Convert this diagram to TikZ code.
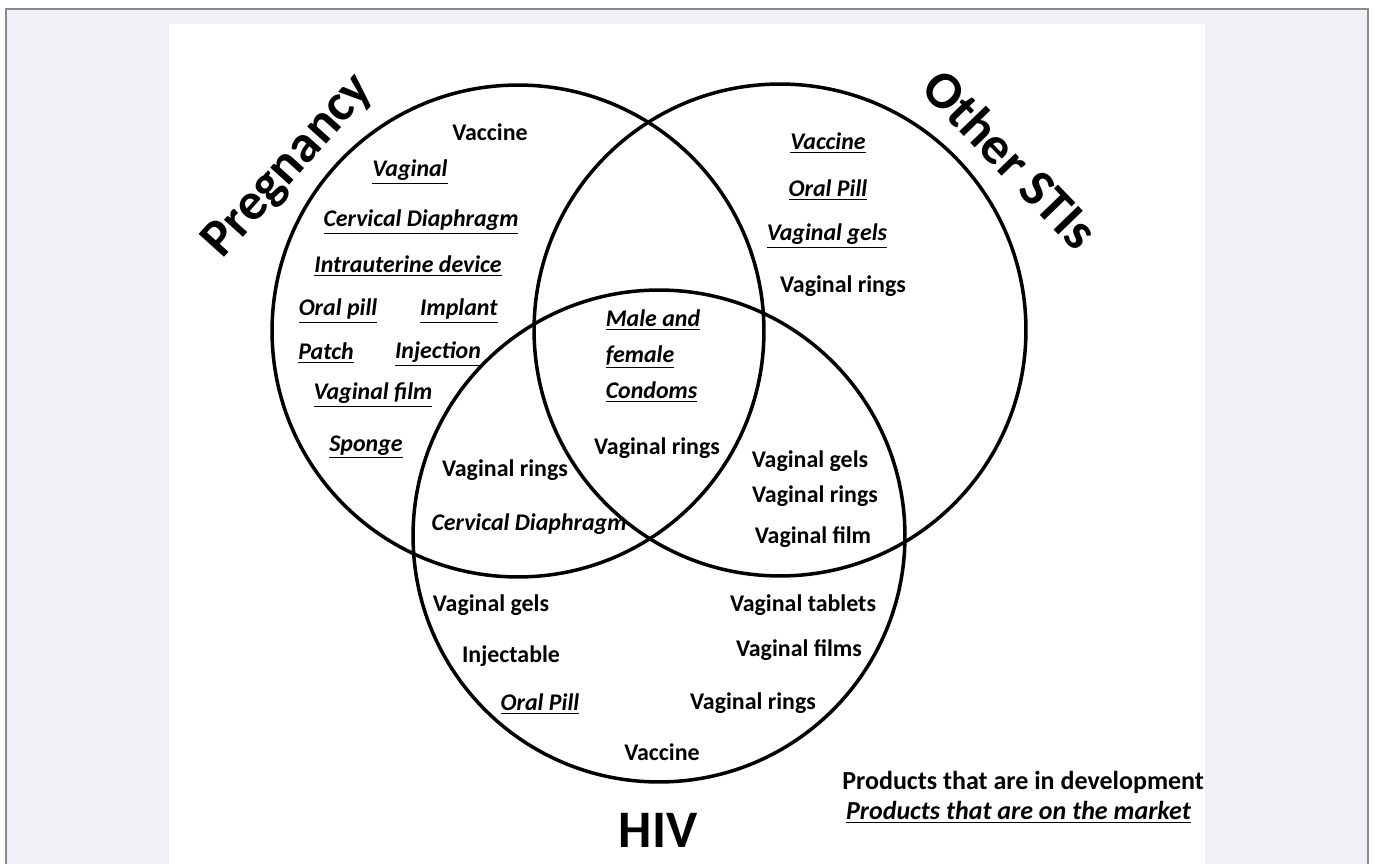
\documentclass[tikz,border=0pt]{standalone}
\usepackage{fontspec}
\setmainfont{Carlito}
\usepackage{tikz}
\usetikzlibrary{positioning}
\definecolor{pagegray}{HTML}{F0F1F6}
\definecolor{framegray}{HTML}{8A8A8A}
\newcommand{\onmkt}[1]{\underline{\textit{#1}}}

\begin{document}
\begin{tikzpicture}[
  x=0.02cm, y=-0.02cm,
  every node/.style={font=\fontsize{13.6}{16}\selectfont\bfseries, inner sep=1pt},
  venn/.style={draw, circle, line width=2pt, minimum size=9.84cm},
  title/.style={font=\fontsize{30}{32}\selectfont\bfseries},
  key/.style={font=\fontsize{14.8}{17}\selectfont\bfseries}
]
\useasboundingbox (0,0) rectangle (1375,864);
\fill[pagegray] (6,9) rectangle (1368,864);
\draw[framegray, line width=0.8pt] (6,864) -- (6,9) -- (1368,9) -- (1368,864);
\fill[white] (169,24) rectangle (1205,864);

% the three sets
\node[venn] (preg) at (518,331) {};
\node[venn] (sti) at (780,330) {};
\node[venn] (hiv) at (659,536) {};

\node[title, rotate=48] (pregtitle) at (289,167) {Pregnancy};
\node[title, rotate=-46] (stititle) at (1011,159) {Other STIs};
\node[title] (hivtitle) at (658,830) {HIV};

% pregnancy only
\node (p1) at (490,132) {Vaccine};
\node (p2) at (410,172) {\onmkt{Vaginal}};
\node (p3) at (421,222) {\onmkt{Cervical Diaphragm}};
\node (p4) at (408,266) {\onmkt{Intrauterine device}};
\node (p5) at (338,311) {\onmkt{Oral pill}};
\node (p6) at (459,311) {\onmkt{Implant}};
\node (p7) at (326,353) {\onmkt{Patch}};
\node (p8) at (438,354) {\onmkt{Injection}};
\node (p9) at (373,395) {\onmkt{Vaginal film}};
\node (p10) at (366,447) {\onmkt{Sponge}};

% other STIs only
\node (s1) at (828,143) {\onmkt{Vaccine}};
\node (s2) at (828,190) {\onmkt{Oral Pill}};
\node (s3) at (827,236) {\onmkt{Vaginal gels}};
\node (s4) at (843,286) {Vaginal rings};

% all three
\node[align=left] (c1) at (653,356) {\onmkt{Male and}\\[4.5pt]\onmkt{female}\\[4.5pt]\onmkt{Condoms}};
\node (c2) at (657,448) {Vaginal rings};

% pregnancy and HIV
\node (ph1) at (505,470) {Vaginal rings};
\node (ph2) at (529,524) {\textit{Cervical Diaphragm}};

% other STIs and HIV
\node (sh1) at (810,461) {Vaginal gels};
\node (sh2) at (815,496) {Vaginal rings};
\node (sh3) at (813,537) {Vaginal film};

% HIV only
\node (h1) at (491,605) {Vaginal gels};
\node (h2) at (511,656) {Injectable};
\node (h3) at (540,704) {\onmkt{Oral Pill}};
\node (h4) at (803,605) {Vaginal tablets};
\node (h5) at (799,650) {Vaginal films};
\node (h6) at (753,703) {Vaginal rings};
\node (h7) at (662,752) {Vaccine};

% legend
\node[key, anchor=east] (devkey) at (1206,782) {Products that are in development};
\node[key, anchor=west] (mktkey) at (844,812) {\onmkt{Products that are on the market}};
\end{tikzpicture}
\end{document}
